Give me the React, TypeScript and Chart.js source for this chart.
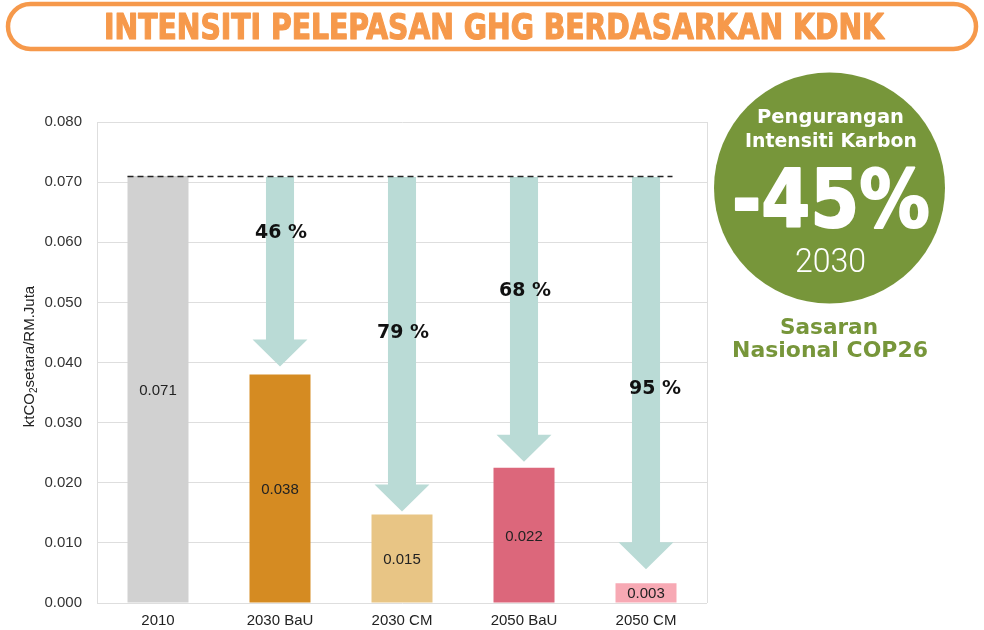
import React, { useEffect, useRef } from "react";
import { Chart, registerables } from "chart.js";

Chart.register(...registerables);

// ---- data ----
const categories = ["2010", "2030 BaU", "2030 CM", "2050 BaU", "2050 CM"];
const intensity = [0.071, 0.038, 0.0147, 0.0225, 0.0033];
const valueLabels = ["0.071", "0.038", "0.015", "0.022", "0.003"];
const reductionLabels = ["", "46 %", "79 %", "68 %", "95 %"];
const baselineValue = 0.071;
const yMin = 0;
const yMax = 0.08;
const yStep = 0.01;
const titleText = "INTENSITI PELEPASAN GHG BERDASARKAN KDNK";
const targetLines = ["Pengurangan", "Intensiti Karbon"];
const targetValue = "-45%";
const targetYear = "2030";
const targetNote = ["Sasaran", "Nasional COP26"];

// ---- styles / layout ----
const barColors = ["#d1d1d1", "#d58b22", "#e8c585", "#dc677b", "#f7a9b4"];
const arrowColor = "#badbd6";
const orange = "#f6994b";
const green = "#77963a";
const arrowGapPx = [0, 8, 3, 6, 14];
const labelAtValue = [0, 0.0619, 0.0452, 0.0522, 0.0359];
const labelDx = [0, 1, 1, 1, 9];
const FONT = "'Liberation Sans', Arial, Helvetica, sans-serif";

function fitText(
  ctx: CanvasRenderingContext2D,
  text: string,
  cx: number,
  baseline: number,
  width: number,
  font: string,
  color: string,
  strokeW = 0
) {
  ctx.save();
  ctx.font = font;
  ctx.fillStyle = color;
  ctx.textAlign = "center";
  ctx.textBaseline = "alphabetic";
  const w = ctx.measureText(text).width || 1;
  ctx.translate(cx, baseline);
  ctx.scale(width / w, 1);
  ctx.fillText(text, 0, 0);
  if (strokeW > 0) {
    ctx.strokeStyle = color;
    ctx.lineWidth = strokeW;
    ctx.lineJoin = "round";
    ctx.strokeText(text, 0, 0);
  }
  ctx.restore();
}

const decorPlugin = {
  id: "decor",
  beforeDraw(chart: any) {
    const ctx: CanvasRenderingContext2D = chart.ctx;
    ctx.save();
    ctx.fillStyle = "#ffffff";
    ctx.fillRect(0, 0, chart.width, chart.height);
    ctx.restore();
  },
  beforeDatasetsDraw(chart: any) {
    const ctx: CanvasRenderingContext2D = chart.ctx;
    const x = chart.scales.x;
    const y = chart.scales.y;
    const area = chart.chartArea;
    ctx.save();
    ctx.strokeStyle = "#dedede";
    ctx.lineWidth = 1;
    ctx.beginPath();
    ctx.moveTo(area.right + 0.5, area.top);
    ctx.lineTo(area.right + 0.5, area.bottom);
    ctx.stroke();
    ctx.restore();

    const meta = chart.getDatasetMeta(0);
    const yStart = y.getPixelForValue(baselineValue);
    for (let i = 1; i < intensity.length; i++) {
      const bar = meta.data[i];
      const cx = x.getPixelForValue(i);
      const bw = bar.width;
      const tip = y.getPixelForValue(intensity[i]) - arrowGapPx[i];
      const headH = 27;
      const headBase = tip - headH;
      const shaftHalf = bw * 0.23;
      const headHalf = bw * 0.45;
      ctx.save();
      ctx.fillStyle = arrowColor;
      ctx.beginPath();
      ctx.moveTo(cx - shaftHalf, yStart + 1);
      ctx.lineTo(cx + shaftHalf, yStart + 1);
      ctx.lineTo(cx + shaftHalf, headBase);
      ctx.lineTo(cx + headHalf, headBase);
      ctx.lineTo(cx, tip);
      ctx.lineTo(cx - headHalf, headBase);
      ctx.lineTo(cx - shaftHalf, headBase);
      ctx.closePath();
      ctx.fill();
      ctx.restore();
    }
  },
  afterDatasetsDraw(chart: any) {
    const ctx: CanvasRenderingContext2D = chart.ctx;
    const x = chart.scales.x;
    const y = chart.scales.y;
    const area = chart.chartArea;
    const meta = chart.getDatasetMeta(0);

    const yb = Math.round(y.getPixelForValue(baselineValue)) + 0.5;
    const first = meta.data[0];
    const last = meta.data[intensity.length - 1];
    ctx.save();
    ctx.strokeStyle = "#222";
    ctx.lineWidth = 1.3;
    ctx.setLineDash([6, 4]);
    ctx.beginPath();
    ctx.moveTo(first.x - first.width / 2, yb);
    ctx.lineTo(last.x + last.width / 2 - 4, yb);
    ctx.stroke();
    ctx.restore();

    ctx.save();
    ctx.font = `15px ${FONT}`;
    ctx.fillStyle = "#222";
    ctx.textAlign = "center";
    ctx.textBaseline = "middle";
    for (let i = 0; i < intensity.length; i++) {
      const cx = x.getPixelForValue(i);
      const top = y.getPixelForValue(intensity[i]);
      const bottom = y.getPixelForValue(0);
      ctx.fillText(valueLabels[i], cx, (top + bottom) / 2 + 1);
    }
    ctx.restore();

    for (let i = 1; i < intensity.length; i++) {
      const cx = x.getPixelForValue(i) + labelDx[i];
      const cy = y.getPixelForValue(labelAtValue[i]);
      fitText(ctx, reductionLabels[i], cx, cy + 7, 52, `bold 20px 'DejaVu Sans', sans-serif`, "#111");
    }

    ctx.save();
    ctx.translate(30, (area.top + area.bottom) / 2 - 6);
    ctx.rotate(-Math.PI / 2);
    ctx.fillStyle = "#222";
    ctx.textBaseline = "middle";
    const big = `15px ${FONT}`;
    const small = `10px ${FONT}`;
    ctx.font = big;
    const p1 = "ktCO";
    const p3 = "setara/RM.Juta";
    const w1 = ctx.measureText(p1).width;
    const w3 = ctx.measureText(p3).width;
    ctx.font = small;
    const w2 = ctx.measureText("2").width;
    const total = w1 + w2 + w3;
    let sx = -total / 2;
    ctx.font = big;
    ctx.textAlign = "left";
    ctx.fillText(p1, sx, 0);
    sx += w1;
    ctx.font = small;
    ctx.fillText("2", sx, 4);
    sx += w2;
    ctx.font = big;
    ctx.fillText(p3, sx, 0);
    ctx.restore();
  },
  afterDraw(chart: any) {
    const ctx: CanvasRenderingContext2D = chart.ctx;
    ctx.save();
    ctx.strokeStyle = orange;
    ctx.lineWidth = 4.5;
    ctx.beginPath();
    (ctx as any).roundRect(8, 4, 968, 45, 22.5);
    ctx.stroke();
    ctx.restore();
    fitText(ctx, titleText, 494, 39, 780, `bold 36px 'DejaVu Sans Condensed', 'DejaVu Sans', sans-serif`, orange, 1.2);

    ctx.save();
    ctx.fillStyle = green;
    ctx.beginPath();
    ctx.arc(829.5, 188, 115.5, 0, Math.PI * 2);
    ctx.fill();
    ctx.restore();
    fitText(ctx, targetLines[0], 830.5, 123, 147, `bold 20px 'DejaVu Sans', sans-serif`, "#ffffff");
    fitText(ctx, targetLines[1], 831, 147, 172, `bold 20px 'DejaVu Sans', sans-serif`, "#ffffff");
    fitText(ctx, targetValue, 831, 227, 198, `bold 81px 'DejaVu Sans', sans-serif`, "#ffffff", 2);
    fitText(ctx, targetYear, 830.5, 272, 71, `300 33px Roboto, 'Open Sans', sans-serif`, "#ffffff");
    fitText(ctx, targetNote[0], 829, 334, 98, `bold 22px 'DejaVu Sans', sans-serif`, green);
    fitText(ctx, targetNote[1], 830, 357, 196, `bold 22px 'DejaVu Sans', sans-serif`, green);
  },
};

export default function App() {
  const ref = useRef<HTMLCanvasElement | null>(null);
  useEffect(() => {
    if (!ref.current) return;
    const chart = new Chart(ref.current, {
      type: "bar",
      data: {
        labels: categories,
        datasets: [
          {
            data: intensity,
            backgroundColor: barColors,
            borderWidth: 0,
            barPercentage: 0.5,
            categoryPercentage: 1,
          },
        ],
      },
      options: {
        responsive: false,
        animation: false,
        layout: { padding: { left: 0, right: 277, top: 122, bottom: 0 } },
        plugins: {
          legend: { display: false },
          tooltip: { enabled: false },
          title: { display: false },
        },
        font: { family: FONT },
        scales: {
          x: {
            grid: { display: false, drawTicks: false },
            border: { display: false },
            ticks: { color: "#222", font: { size: 15, family: FONT }, padding: 9 },
            afterFit: (s: any) => {
              s.height = 27;
            },
          },
          y: {
            min: yMin,
            max: yMax,
            ticks: {
              stepSize: yStep,
              color: "#333",
              font: { size: 15, family: FONT },
              padding: 15,
              callback: (v: any) => Number(v).toFixed(3),
            },
            grid: { color: "#dedede", drawTicks: false },
            border: { display: true, color: "#dedede" },
            afterFit: (s: any) => {
              s.width = 97;
            },
          },
        },
      } as any,
      plugins: [decorPlugin],
    });
    return () => chart.destroy();
  }, []);
  return (
    <div style={{ position: "absolute", left: 0, top: 0, width: 984, height: 630, background: "#fff" }}>
      <canvas ref={ref} width={984} height={630} style={{ display: "block" }} />
    </div>
  );
}
